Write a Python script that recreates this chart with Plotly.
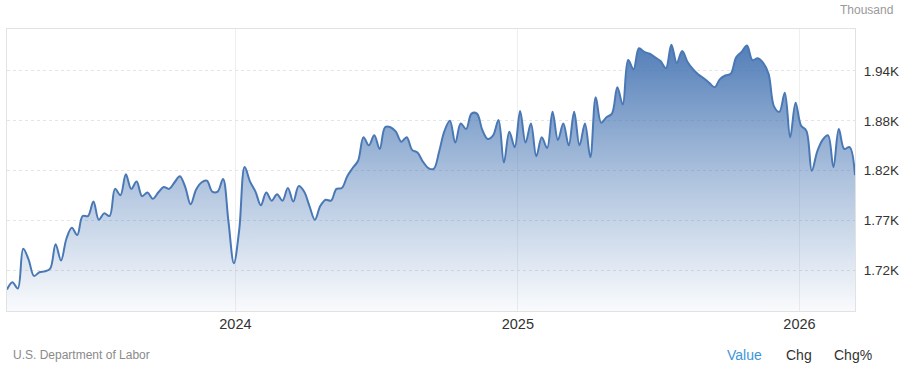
import pandas as pd
import plotly.graph_objects as go

start_date = "2023-03-11"
values = [
    1694, 1702, 1695, 1739, 1727, 1709, 1713, 1714, 1717, 1744,
    1726, 1750, 1762, 1754, 1775, 1775, 1791, 1771, 1778, 1775,
    1805, 1798, 1821, 1805, 1813, 1797, 1801, 1794, 1801, 1807,
    1805, 1812, 1819, 1807, 1788, 1804, 1812, 1814, 1802, 1802,
    1816, 1769, 1723, 1760, 1829, 1813, 1802, 1787, 1801, 1792,
    1799, 1792, 1806, 1791, 1808, 1802, 1786, 1771, 1786, 1793,
    1792, 1805, 1806, 1819, 1828, 1836, 1862, 1853, 1864, 1849,
    1873, 1873, 1868, 1857, 1862, 1848, 1845, 1835, 1828, 1827,
    1846, 1869, 1880, 1856, 1877, 1871, 1888, 1888, 1870, 1860,
    1864, 1881, 1834, 1868, 1851, 1891, 1856, 1877, 1841, 1862,
    1850, 1890, 1859, 1877, 1853, 1890, 1853, 1877, 1840, 1906,
    1878, 1884, 1888, 1917, 1898, 1947, 1937, 1960, 1956, 1954,
    1950, 1946, 1938, 1964, 1944, 1957, 1945, 1937, 1931, 1927,
    1922, 1917, 1926, 1930, 1932, 1950, 1956, 1963, 1947, 1949,
    1944, 1932, 1896, 1890, 1911, 1862, 1900, 1875, 1869, 1825,
    1846, 1859, 1864, 1829, 1871, 1849, 1851, 1820,
]
dates = pd.date_range(start=start_date, periods=len(values), freq="7D")

y_tickvals = [1715, 1770, 1825, 1880, 1935]
y_ticktext = ["1.72K", "1.77K", "1.82K", "1.88K", "1.94K"]
x_tickvals = ["2024-01-01", "2025-01-01", "2026-01-01"]
x_ticktext = ["2024", "2025", "2026"]

line_color = "#4a78b5"

fig = go.Figure()
fig.add_trace(go.Scatter(
    x=dates, y=values, mode="lines",
    line=dict(color=line_color, width=2, shape="spline", smoothing=1),
    fill="tozeroy",
    fillgradient=dict(
        type="vertical",
        start=1670, stop=1964,
        colorscale=[[0, "rgba(74,120,181,0.03)"], [0.5, "rgba(74,120,181,0.45)"], [1, "rgba(74,120,181,0.95)"]],
    ),
    hoverinfo="skip",
))

fig.update_layout(
    width=900, height=367,
    margin=dict(l=7, r=45, t=29, b=56),
    paper_bgcolor="white", plot_bgcolor="white",
    showlegend=False,
    font=dict(family="Liberation Sans, Arial, sans-serif", color="#333333"),
    xaxis=dict(
        range=[dates[0], dates[-1]],
        tickvals=x_tickvals, ticktext=x_ticktext,
        tickfont=dict(size=14.5, color="#333333"),
        showgrid=True, gridcolor="#efefef", gridwidth=1,
        showline=True, linecolor="#e2e2e2", linewidth=1, mirror=True,
        ticks="", zeroline=False, automargin=False,
    ),
    yaxis=dict(
        range=[1670.3, 1981.3],
        side="right",
        tickvals=y_tickvals, ticktext=y_ticktext,
        tickfont=dict(size=13.5, color="#333333"),
        showgrid=True, gridcolor="#e4e4e4", gridwidth=1, griddash="dot",
        showline=True, linecolor="#e2e2e2", linewidth=1, mirror=True,
        ticks="", zeroline=False, ticklabelstandoff=5, automargin=False,
    ),
)

def px_x(p):
    return (p - 7) / 848

def px_y(p):
    return (311 - p) / 282

annotations = [
    dict(text="Thousand", x=px_x(895), y=px_y(10), xanchor="right", yanchor="middle",
         font=dict(size=12, color="#999999")),
    dict(text="U.S. Department of Labor", x=px_x(11), y=px_y(355), xanchor="left", yanchor="middle",
         font=dict(size=12, color="#8a8a8a")),
    dict(text="Value", x=px_x(725), y=px_y(355), xanchor="left", yanchor="middle",
         font=dict(size=14, color="#3d95db")),
    dict(text="Chg", x=px_x(784), y=px_y(355), xanchor="left", yanchor="middle",
         font=dict(size=14, color="#333333")),
    dict(text="Chg%", x=px_x(832), y=px_y(355), xanchor="left", yanchor="middle",
         font=dict(size=14, color="#333333")),
]
for a in annotations:
    a.update(xref="paper", yref="paper", showarrow=False)
fig.update_layout(annotations=annotations)

fig.write_html("out.html")
